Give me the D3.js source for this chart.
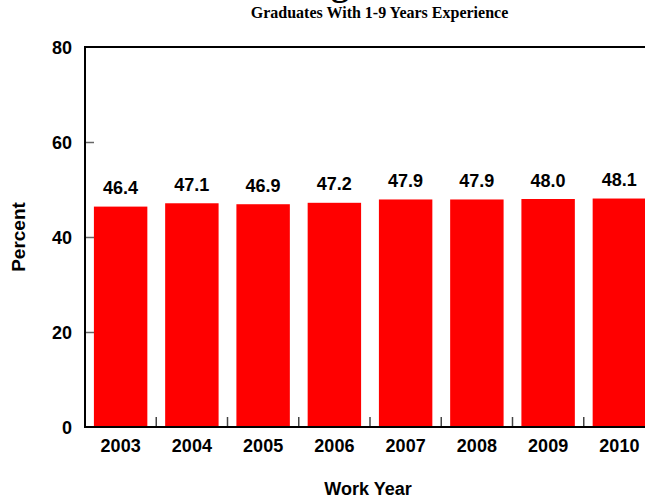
<!DOCTYPE html>
<html>
<head>
<meta charset="utf-8">
<script src="https://cdn.jsdelivr.net/npm/d3@7"></script>
<style>
  body { margin: 0; background: #fff; }
  svg { display: block; }
  text { font-family: 'Liberation Sans', Arial, sans-serif; font-weight: bold; }
</style>
</head>
<body>
<svg width="645" height="500"></svg>
<script>
var years = ['2003', '2004', '2005', '2006', '2007', '2008', '2009', '2010']
var percents = [46.4, 47.1, 46.9, 47.2, 47.9, 47.9, 48.0, 48.1]
var yTicks = [0, 20, 40, 60, 80]

var chart = () => {
  var svg = d3.select('svg')
  var margin = {top: 47, left: 85, bottom: 427, right: 655}

  var data = years.map((y, i) => ({year: y, value: percents[i]}))

  var x = d3.scaleBand()
    .domain(years)
    .range([margin.left, margin.right])
    .paddingInner(0.25)
    .paddingOuter(0.125)

  var y = d3.scaleLinear()
    .domain([0, 80])
    .range([margin.bottom, margin.top])

  // main title sits mostly above the top edge, only a descender shows
  var title = svg.append('text')
    .attr('y', -5.5)
    .style('font-family', "'Liberation Serif', 'Times New Roman', serif")
    .style('font-size', '36px')
    .text('Percentage Female')
  var gAt = title.node().getSubStringLength(0, title.text().indexOf('g'))
  title.attr('x', 331 - gAt)

  svg.append('text')
    .attr('x', 379.5)
    .attr('y', 18)
    .attr('text-anchor', 'middle')
    .style('font-family', "'Liberation Serif', 'Times New Roman', serif")
    .style('font-size', '16px')
    .text('Graduates With 1-9 Years Experience')

  // bars
  svg.append('g')
    .attr('fill', '#ff0000')
    .selectAll('rect').data(data).enter().append('rect')
    .attr('x', d => x(d.year))
    .attr('y', d => y(d.value))
    .attr('width', x.bandwidth())
    .attr('height', d => y(0) - y(d.value))

  // value labels
  svg.append('g')
    .selectAll('text').data(data).enter().append('text')
    .attr('x', d => x(d.year) + x.bandwidth() / 2)
    .attr('y', d => y(d.value) - 12.5)
    .attr('text-anchor', 'middle')
    .style('font-size', '18px')
    .text(d => d.value.toFixed(1))

  // y axis: inside ticks, labels on left
  var yAxis = d3.axisRight(y).tickValues(yTicks.slice(1, -1)).tickSize(9).tickFormat('')
  svg.append('g')
    .attr('transform', `translate(${margin.left}, 0)`)
    .call(yAxis)
    .call(g => g.select('.domain').remove())
    .call(g => g.selectAll('line').attr('stroke', '#666').attr('stroke-width', 1.5))

  svg.append('g')
    .selectAll('text').data(yTicks).enter().append('text')
    .attr('x', 72)
    .attr('y', d => y(d) + 6.5)
    .attr('text-anchor', 'end')
    .style('font-size', '18px')
    .text(d => d)

  // x axis: ticks between bars
  var step = x.step()
  var bounds = years.slice(1).map(d => x(d) - step * x.paddingInner() / 2)
  svg.append('g')
    .selectAll('line').data(bounds).enter().append('line')
    .attr('x1', d => d).attr('x2', d => d)
    .attr('y1', margin.bottom).attr('y2', margin.bottom - 10)
    .attr('stroke', '#444')
    .attr('stroke-width', 1.5)

  var xAxis = d3.axisBottom(x).tickSize(0).tickPadding(12)
  svg.append('g')
    .attr('transform', `translate(0, ${margin.bottom})`)
    .call(xAxis)
    .call(g => g.select('.domain').remove())
    .call(g => g.selectAll('text').style('font-size', '18px').attr('fill', '#000')
      .style('font-family', "'Liberation Sans', Arial, sans-serif").style('font-weight', 'bold'))

  // frame
  svg.append('rect')
    .attr('x', margin.left)
    .attr('y', margin.top)
    .attr('width', margin.right - margin.left)
    .attr('height', margin.bottom - margin.top)
    .attr('fill', 'none')
    .attr('stroke', '#000')
    .attr('stroke-width', 2)

  // axis titles
  svg.append('text')
    .attr('transform', 'translate(25, 237) rotate(-90)')
    .attr('text-anchor', 'middle')
    .style('font-size', '19px')
    .text('Percent')

  svg.append('text')
    .attr('x', 368)
    .attr('y', 495)
    .attr('text-anchor', 'middle')
    .style('font-size', '18px')
    .text('Work Year')
}

chart()
</script>
</body>
</html>
